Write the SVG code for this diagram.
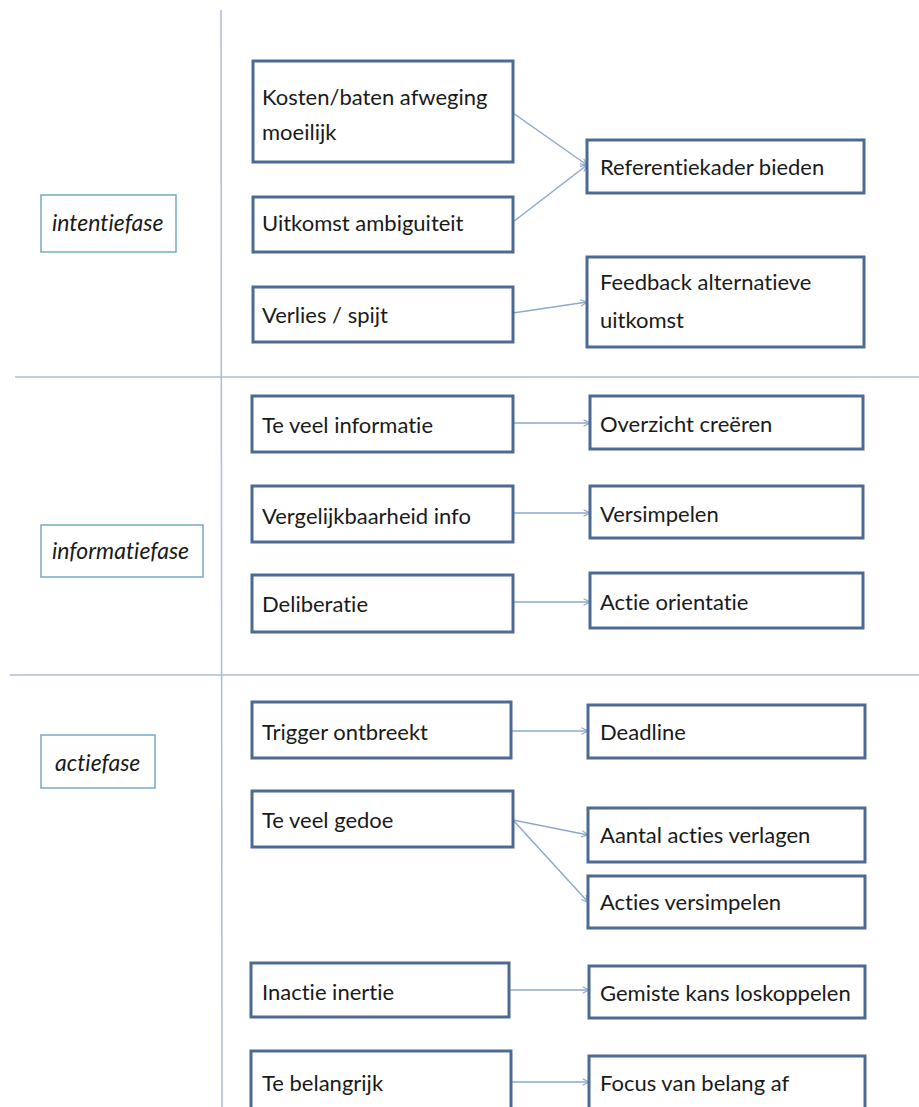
<svg xmlns="http://www.w3.org/2000/svg" width="919" height="1107" viewBox="0 0 919 1107">
<style>
.box{fill:#fff;stroke:#4c6a92;stroke-width:3}
.phase{fill:#fff;stroke:#78a9c6;stroke-width:1.5}
.t{font-family:Lato,"Open Sans",sans-serif;font-size:22px;fill:#1a1a1a;font-variant-ligatures:none}
.pt{font-family:Lato,"Open Sans",sans-serif;font-size:23px;font-style:italic;fill:#1a1a1a;font-variant-ligatures:none}
.grid{stroke:#a9bfd6;stroke-width:1.5;fill:none}
.con{stroke:#8ea9cc;stroke-width:1.5;fill:none;marker-end:url(#arr)}
</style>
<defs>
<marker id="arr" viewBox="0 0 10 10" refX="9" refY="5" markerWidth="8" markerHeight="8" markerUnits="userSpaceOnUse" orient="auto">
<path d="M1,1 L9,5 L1,9" fill="none" stroke="#8ea9cc" stroke-width="1.5"/>
</marker>
</defs>
<rect width="919" height="1107" fill="#fff"/>
<g id="grid">
<line class="grid" x1="221" y1="10" x2="222" y2="1107"/>
<line class="grid" x1="15" y1="377" x2="919" y2="377"/>
<line class="grid" x1="10" y1="675" x2="919" y2="675"/>
</g>
<g id="connectors">
<line class="con" x1="513" y1="113" x2="587" y2="165"/>
<line class="con" x1="513" y1="222" x2="587" y2="165"/>
<line class="con" x1="513" y1="313" x2="587" y2="302"/>
<line class="con" x1="513" y1="423" x2="590" y2="423"/>
<line class="con" x1="513" y1="513" x2="590" y2="513"/>
<line class="con" x1="513" y1="602" x2="590" y2="602"/>
<line class="con" x1="511" y1="731" x2="588" y2="731"/>
<line class="con" x1="513" y1="820" x2="588" y2="835"/>
<line class="con" x1="513" y1="820" x2="588" y2="902"/>
<line class="con" x1="509" y1="990" x2="589" y2="990"/>
<line class="con" x1="511" y1="1082" x2="589" y2="1082"/>
</g>
<g id="p-intentie"><rect class="phase" x="41" y="195" width="135" height="57"/><text class="pt" x="52" y="231">intentiefase</text></g>
<g id="p-informatie"><rect class="phase" x="41" y="525" width="162" height="52"/><text class="pt" x="52" y="559">informatiefase</text></g>
<g id="p-actie"><rect class="phase" x="41" y="735" width="114" height="53"/><text class="pt" x="55" y="771">actiefase</text></g>

<g id="n-kosten"><rect class="box" x="253" y="61" width="260" height="101"/><text class="t" x="262" y="105">Kosten/baten afweging</text><text class="t" x="262" y="140">moeilijk</text></g>
<g id="n-uitkomst"><rect class="box" x="253" y="197" width="260" height="55"/><text class="t" x="262" y="231">Uitkomst ambiguiteit</text></g>
<g id="n-verlies"><rect class="box" x="253" y="287" width="260" height="55"/><text class="t" x="262" y="323">Verlies / spijt</text></g>
<g id="n-referentie"><rect class="box" x="587" y="140" width="277" height="53"/><text class="t" x="600" y="175">Referentiekader bieden</text></g>
<g id="n-feedback"><rect class="box" x="587" y="257" width="277" height="90"/><text class="t" x="600" y="290">Feedback alternatieve</text><text class="t" x="600" y="328">uitkomst</text></g>

<g id="n-teveelinfo"><rect class="box" x="252" y="396" width="261" height="56"/><text class="t" x="262" y="433">Te veel informatie</text></g>
<g id="n-overzicht"><rect class="box" x="590" y="396" width="273" height="53"/><text class="t" x="600" y="432">Overzicht creëren</text></g>
<g id="n-vergelijk"><rect class="box" x="252" y="486" width="261" height="56"/><text class="t" x="262" y="524">Vergelijkbaarheid info</text></g>
<g id="n-versimpelen"><rect class="box" x="590" y="486" width="273" height="52"/><text class="t" x="600" y="522">Versimpelen</text></g>
<g id="n-deliberatie"><rect class="box" x="252" y="575" width="261" height="57"/><text class="t" x="262" y="612">Deliberatie</text></g>
<g id="n-actieorient"><rect class="box" x="590" y="573" width="273" height="55"/><text class="t" x="600" y="610">Actie orientatie</text></g>

<g id="n-trigger"><rect class="box" x="252" y="702" width="259" height="56"/><text class="t" x="262" y="740">Trigger ontbreekt</text></g>
<g id="n-deadline"><rect class="box" x="588" y="705" width="277" height="53"/><text class="t" x="600" y="740">Deadline</text></g>
<g id="n-gedoe"><rect class="box" x="252" y="791" width="261" height="56"/><text class="t" x="262" y="828">Te veel gedoe</text></g>
<g id="n-aantal"><rect class="box" x="588" y="808" width="277" height="54"/><text class="t" x="600" y="843">Aantal acties verlagen</text></g>
<g id="n-actiesversimp"><rect class="box" x="588" y="876" width="277" height="52"/><text class="t" x="600" y="910">Acties versimpelen</text></g>
<g id="n-inactie"><rect class="box" x="251" y="963" width="258" height="54"/><text class="t" x="262" y="1000">Inactie inertie</text></g>
<g id="n-gemiste"><rect class="box" x="589" y="966" width="276" height="52"/><text class="t" x="600" y="1001">Gemiste kans loskoppelen</text></g>
<g id="n-belangrijk"><rect class="box" x="251" y="1051" width="260" height="70"/><text class="t" x="262" y="1091">Te belangrijk</text></g>
<g id="n-focus"><rect class="box" x="589" y="1056" width="276" height="65"/><text class="t" x="600" y="1091">Focus van belang af</text></g>
</svg>
